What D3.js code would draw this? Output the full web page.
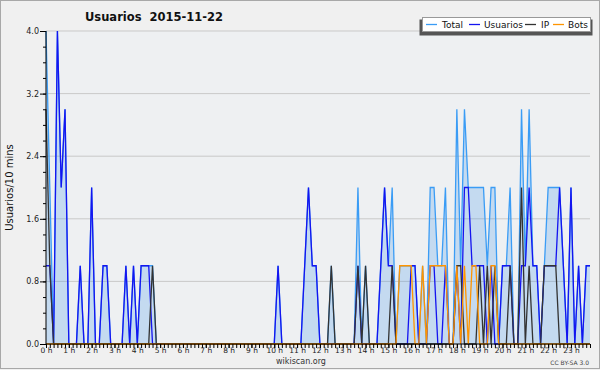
<!DOCTYPE html>
<html>
<head>
<meta charset="utf-8">
<script src="https://cdn.jsdelivr.net/npm/d3@7"></script>
<style>
  html, body { margin: 0; padding: 0; background: #f0f0f0; }
  svg { display: block; }
  text { font-family: "DejaVu Sans", sans-serif; }
</style>
</head>
<body>
<svg id="chart" width="600" height="370"></svg>
<script>
// ---- data (10-minute slots, 0h .. 23h50) ----
const total = [
  4,2,0,4,2,3,0,0,0,1, 0,0,2,0,0,1,1,0,0,0, 0,1,0,1,0,1,1,1,1,0,
  0,0,0,0,0,0,0,0,0,0, 0,0,0,0,0,0,0,0,0,0, 0,0,0,0,0,0,0,0,0,0,
  0,1,0,0,0,0,0,0,1,2, 1,1,0,0,0,1,0,0,0,0, 0,0,2,0,1,0,0,0,1,2,
  1,2,0,1,1,1,1,1,0,1, 0,2,2,1,1,2,0,0,3,1, 3,2,2,2,2,2,1,2,2,0,
  1,1,2,0,0,3,1,3,1,1, 0,1,2,2,2,2,1,0,2,0, 1,0,1,1
];
const usuarios = [
  1,1,0,4,2,3,0,0,0,1, 0,0,2,0,0,1,1,0,0,0, 0,1,0,1,0,1,1,1,0,0,
  0,0,0,0,0,0,0,0,0,0, 0,0,0,0,0,0,0,0,0,0, 0,0,0,0,0,0,0,0,0,0,
  0,1,0,0,0,0,0,0,1,2, 1,1,0,0,0,0,0,0,0,0, 0,0,1,0,0,0,0,0,1,2,
  1,1,0,0,0,0,1,1,0,0, 0,1,1,0,0,1,0,0,1,0, 2,2,1,1,1,1,0,1,0,0,
  1,1,1,0,0,1,1,2,1,1, 0,1,1,1,1,2,1,0,2,0, 1,0,1,1
];
const ip = [
  3,1,0,0,0,0,0,0,0,0, 0,0,0,0,0,0,0,0,0,0, 0,0,0,0,0,0,0,0,1,0,
  0,0,0,0,0,0,0,0,0,0, 0,0,0,0,0,0,0,0,0,0, 0,0,0,0,0,0,0,0,0,0,
  0,0,0,0,0,0,0,0,0,0, 0,0,0,0,0,1,0,0,0,0, 0,0,1,0,1,0,0,0,0,0,
  0,1,0,0,0,0,0,0,0,0, 0,0,0,0,0,0,0,0,1,1, 0,0,0,0,1,0,1,0,1,0,
  0,0,1,0,0,2,0,1,0,0, 0,1,1,1,1,0,0,0,0,0, 0,0,0,0
];
const bots = [
  0,0,0,0,0,0,0,0,0,0, 0,0,0,0,0,0,0,0,0,0, 0,0,0,0,0,0,0,0,0,0,
  0,0,0,0,0,0,0,0,0,0, 0,0,0,0,0,0,0,0,0,0, 0,0,0,0,0,0,0,0,0,0,
  0,0,0,0,0,0,0,0,0,0, 0,0,0,0,0,0,0,0,0,0, 0,0,0,0,0,0,0,0,0,0,
  0,0,0,1,1,1,1,0,0,1, 0,1,1,1,1,1,0,0,1,0, 1,0,1,1,0,0,0,1,1,0,
  0,0,0,0,0,0,0,0,0,0, 0,0,0,0,0,0,0,0,0,0, 0,0,0,0
];
const hourLabels = ["0 h","1 h","2 h","3 h","4 h","5 h","6 h","7 h","8 h","9 h","10 h","11 h",
                    "12 h","13 h","14 h","15 h","16 h","17 h","18 h","19 h","20 h","21 h","22 h","23 h"];
const yMajorTicks = [0, 0.8, 1.6, 2.4, 3.2, 4.0];
const seriesNames = ["Total", "Usuarios", "IP", "Bots"];
const titleText = "Usuarios\u00a0\u00a02015-11-22";
const yAxisTitle = "Usuarios/10 mins";

// ---- layout ----
const W = 600, H = 370;
const colors = { Total: "#3a9cf5", Usuarios: "#1414f0", IP: "#333333", Bots: "#ff9500" };
const svg = d3.select("#chart");

svg.append("rect").attr("x", 0.5).attr("y", 0.5).attr("width", W - 1).attr("height", H - 2)
  .attr("fill", "#f0f0f0").attr("stroke", "#a8a8a8");

const x = d3.scaleLinear().domain([0, total.length - 1]).range([46, 590]);
const y = d3.scaleLinear().domain([0, 4]).range([344, 31]);

// plot background
svg.append("rect").attr("x", x(0)).attr("y", y(4)).attr("width", x(143) - x(0)).attr("height", y(0) - y(4))
  .attr("fill", "#eef0f2");

// grid
svg.append("g").selectAll("line").data(yMajorTicks.filter(d => d > 0)).join("line")
  .attr("x1", x(0)).attr("x2", x(143)).attr("y1", d => y(d)).attr("y2", d => y(d))
  .attr("stroke", "#c9c9c9").attr("stroke-width", 1);

// area for total
const idx = total.map((d, i) => i);
svg.append("path").datum(total)
  .attr("d", d3.area().x((d, i) => x(i)).y0(y(0)).y1(d => y(d)))
  .attr("fill", "rgba(50,140,230,0.22)");

const line = d3.line().x((d, i) => x(i)).y(d => y(d));
const dataBy = { Total: total, Usuarios: usuarios, IP: ip, Bots: bots };
seriesNames.forEach(n => {
  svg.append("path").datum(dataBy[n]).attr("d", line)
    .attr("fill", "none").attr("stroke", colors[n]).attr("stroke-width", 1.3)
    .attr("stroke-linejoin", "miter");
});

// y axis
const yMinor = d3.range(0, 21).map(k => k * 0.2);
svg.append("g").attr("transform", `translate(${x(0)},0)`)
  .call(d3.axisLeft(y).tickValues(yMinor).tickSize(3).tickFormat(""))
  .call(g => g.select(".domain").remove())
  .selectAll("line").attr("stroke", "#000");
const yAx = svg.append("g").attr("transform", `translate(${x(0)},0)`)
  .call(d3.axisLeft(y).tickValues(yMajorTicks).tickSize(6).tickPadding(1).tickFormat(d3.format(".1f")));
yAx.select(".domain").attr("d", `M0,${y(4)}V${y(0)}`).attr("stroke", "#000");
yAx.selectAll("text").attr("font-size", 8).attr("font-family", "DejaVu Sans").attr("fill", "#222");

// x axis
svg.append("g").attr("transform", `translate(0,${y(0)})`)
  .call(d3.axisBottom(x).tickValues(idx).tickSize(4).tickFormat(""))
  .call(g => g.select(".domain").attr("d", `M${x(0)},0H${x(143)}`).attr("stroke", "#000"))
  .selectAll("line").attr("stroke", "#000");
const xAx = svg.append("g").attr("transform", `translate(0,${y(0)})`)
  .call(d3.axisBottom(x).tickValues(hourLabels.map((h, k) => k * 6)).tickSize(4).tickPadding(0)
    .tickFormat((d, k) => hourLabels[k]));
xAx.select(".domain").remove();
xAx.selectAll("text").attr("font-size", 7.5).attr("font-family", "DejaVu Sans").attr("fill", "#222");

// title
svg.append("text").attr("x", 85).attr("y", 21).attr("font-size", 11.5).attr("font-weight", "bold")
  .attr("fill", "#111").text(titleText);

// y axis title
svg.append("text").attr("transform", `translate(13,${(y(0) + y(4)) / 2}) rotate(-90)`)
  .attr("text-anchor", "middle").attr("font-size", 10).attr("fill", "#111").text(yAxisTitle);

// footer
svg.append("text").attr("x", 301).attr("y", 364).attr("text-anchor", "middle").attr("font-size", 8)
  .attr("fill", "#333").text("wikiscan.org");
svg.append("text").attr("x", 589).attr("y", 365).attr("text-anchor", "end").attr("font-size", 6)
  .attr("fill", "#444").text("CC BY-SA 3.0");

// legend
const lg = svg.append("g");
lg.append("rect").attr("x", 419.5).attr("y", 19.5).attr("width", 173).attr("height", 16).attr("fill", "#555");
lg.append("rect").attr("x", 422.5).attr("y", 17.5).attr("width", 168).attr("height", 14)
  .attr("fill", "#fff").attr("stroke", "#999");
const legendPos = [ [426, 442], [469, 484], [525, 541], [553, 568] ];
seriesNames.forEach((n, k) => {
  lg.append("line").attr("x1", legendPos[k][0]).attr("x2", legendPos[k][0] + 11)
    .attr("y1", 24.5).attr("y2", 24.5).attr("stroke", colors[n]).attr("stroke-width", 1.3);
  lg.append("text").attr("x", legendPos[k][1]).attr("y", 28).attr("font-size", 9)
    .attr("fill", "#111").text(n);
});
</script>
</body>
</html>
